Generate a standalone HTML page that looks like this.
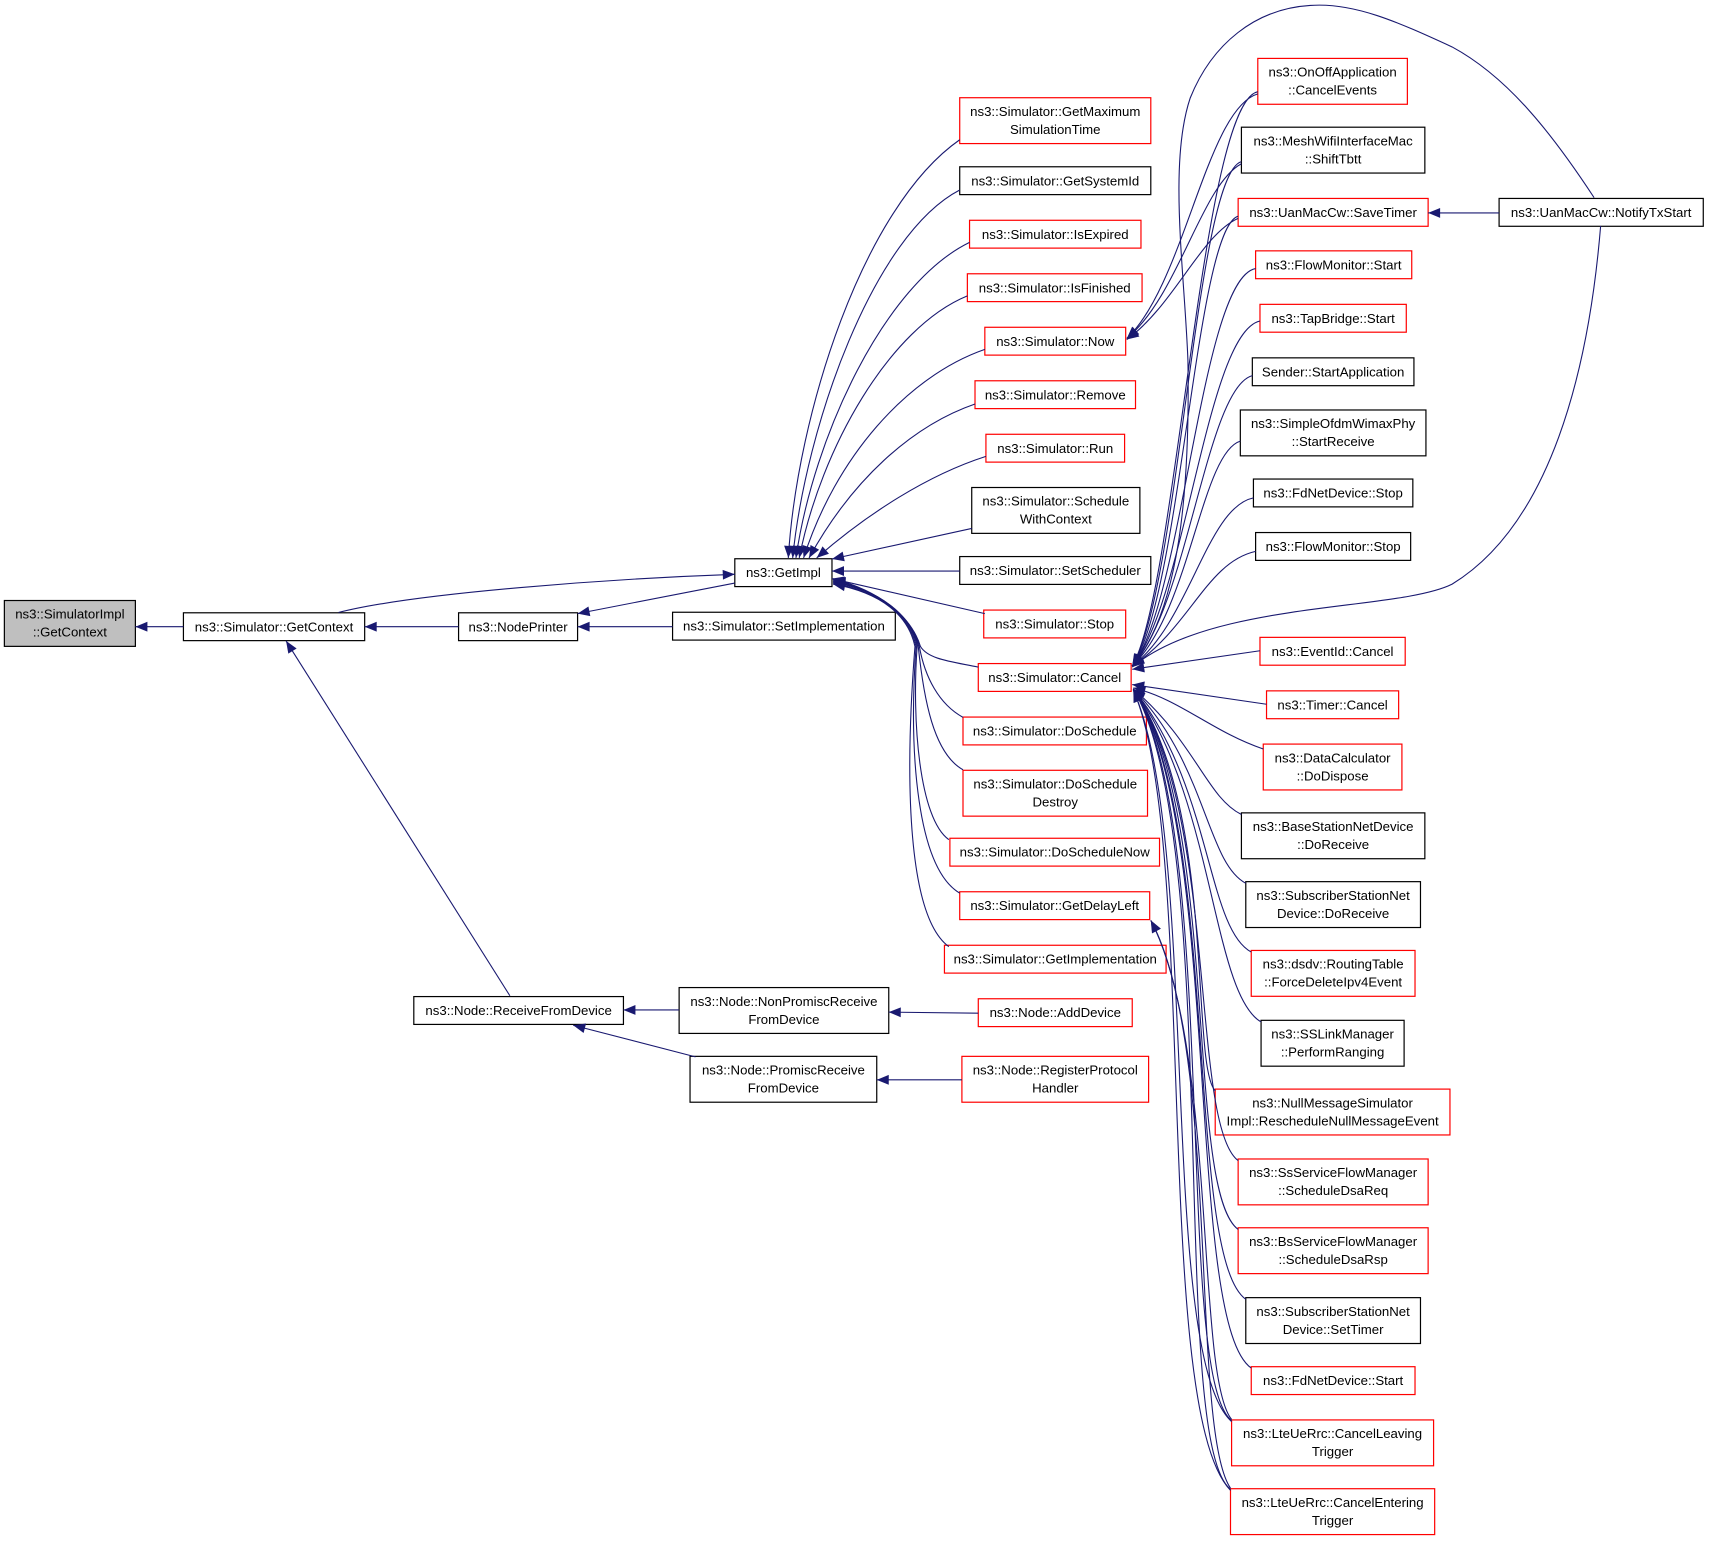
<!DOCTYPE html>
<html><head><meta charset="utf-8"><style>
html,body{margin:0;padding:0;background:#fff;}
svg{display:block;}
text{font-family:"Liberation Sans",Arial,sans-serif;font-size:12.1px;fill:#000;text-anchor:middle;}
.r{fill:#fff;stroke:#ff0000;stroke-width:1.1;}
.b{fill:#fff;stroke:#000;stroke-width:1.1;}
.e{fill:none;stroke:#191970;stroke-width:1;}
</style></head><body>
<svg width="1712" height="1542" viewBox="0 0 1568 1412.3" preserveAspectRatio="none" xmlns="http://www.w3.org/2000/svg">
<defs><marker id="a" markerUnits="userSpaceOnUse" markerWidth="11" markerHeight="9" viewBox="0 0 11 9" refX="11" refY="4.5" orient="auto" overflow="visible"><path d="M0,0L11,4.5L0,9z" fill="#191970"/></marker></defs>
<rect width="1568" height="1413" fill="#fff"/>
<!-- nodes -->
<rect x="4" y="550" width="120" height="42" fill="#bfbfbf" stroke="#000" stroke-width="1.1"/><text x="64" y="566.7">ns3::SimulatorImpl</text><text x="64" y="583.2">::GetContext</text>
<rect class="b" x="168" y="561.25" width="166" height="25.5"/><text x="251" y="578.2">ns3::Simulator::GetContext</text>
<rect class="b" x="379" y="912.75" width="192" height="25.5"/><text x="475" y="929.7">ns3::Node::ReceiveFromDevice</text>
<rect class="b" x="420" y="561.25" width="109" height="25.5"/><text x="474.5" y="578.2">ns3::NodePrinter</text>
<rect class="b" x="622" y="904.5" width="192" height="42"/><text x="718" y="921.2">ns3::Node::NonPromiscReceive</text><text x="718" y="937.7">FromDevice</text>
<rect class="b" x="632" y="967.5" width="171" height="42"/><text x="717.5" y="984.2">ns3::Node::PromiscReceive</text><text x="717.5" y="1000.7">FromDevice</text>
<rect class="b" x="673" y="511.75" width="89" height="25.5"/><text x="717.5" y="528.7">ns3::GetImpl</text>
<rect class="b" x="616" y="560.75" width="204" height="25.5"/><text x="718" y="577.7">ns3::Simulator::SetImplementation</text>
<rect class="r" x="896" y="914.75" width="141" height="25.5"/><text x="966.5" y="931.7">ns3::Node::AddDevice</text>
<rect class="r" x="881" y="967.5" width="171" height="42"/><text x="966.5" y="984.2">ns3::Node::RegisterProtocol</text><text x="966.5" y="1000.7">Handler</text>

<rect class="r" x="879" y="89.5" width="175" height="42"/><text x="966.5" y="106.2">ns3::Simulator::GetMaximum</text><text x="966.5" y="122.7">SimulationTime</text>
<rect class="b" x="879" y="152.75" width="175" height="25.5"/><text x="966.5" y="169.7">ns3::Simulator::GetSystemId</text>
<rect class="r" x="888" y="201.75" width="157" height="25.5"/><text x="966.5" y="218.7">ns3::Simulator::IsExpired</text>
<rect class="r" x="886" y="250.75" width="160" height="25.5"/><text x="966" y="267.7">ns3::Simulator::IsFinished</text>
<rect class="r" x="902" y="299.75" width="129" height="25.5"/><text x="966.5" y="316.7">ns3::Simulator::Now</text>
<rect class="r" x="893" y="348.75" width="147" height="25.5"/><text x="966.5" y="365.7">ns3::Simulator::Remove</text>
<rect class="r" x="903" y="397.75" width="127" height="25.5"/><text x="966.5" y="414.7">ns3::Simulator::Run</text>
<rect class="b" x="890" y="446.5" width="154" height="42"/><text x="967" y="463.2">ns3::Simulator::Schedule</text><text x="967" y="479.7">WithContext</text>
<rect class="b" x="879" y="509.75" width="175" height="25.5"/><text x="966.5" y="526.7">ns3::Simulator::SetScheduler</text>
<rect class="r" x="901" y="558.75" width="130" height="25.5"/><text x="966" y="575.7">ns3::Simulator::Stop</text>
<rect class="r" x="896" y="607.75" width="140" height="25.5"/><text x="966" y="624.7">ns3::Simulator::Cancel</text>
<rect class="r" x="882" y="656.75" width="168" height="25.5"/><text x="966" y="673.7">ns3::Simulator::DoSchedule</text>
<rect class="r" x="882" y="705.5" width="169" height="42"/><text x="966.5" y="722.2">ns3::Simulator::DoSchedule</text><text x="966.5" y="738.7">Destroy</text>
<rect class="r" x="870" y="767.75" width="192" height="25.5"/><text x="966" y="784.7">ns3::Simulator::DoScheduleNow</text>
<rect class="r" x="879" y="816.75" width="174" height="25.5"/><text x="966" y="833.7">ns3::Simulator::GetDelayLeft</text>
<rect class="r" x="865" y="865.75" width="203" height="25.5"/><text x="966.5" y="882.7">ns3::Simulator::GetImplementation</text>

<rect class="r" x="1152" y="53.5" width="137" height="42"/><text x="1220.5" y="70.2">ns3::OnOffApplication</text><text x="1220.5" y="86.7">::CancelEvents</text>
<rect class="b" x="1137" y="116.5" width="168" height="42"/><text x="1221" y="133.2">ns3::MeshWifiInterfaceMac</text><text x="1221" y="149.7">::ShiftTbtt</text>
<rect class="r" x="1134" y="181.75" width="174" height="25.5"/><text x="1221" y="198.7">ns3::UanMacCw::SaveTimer</text>
<rect class="r" x="1150" y="229.75" width="143" height="25.5"/><text x="1221.5" y="246.7">ns3::FlowMonitor::Start</text>
<rect class="r" x="1154" y="278.75" width="134" height="25.5"/><text x="1221" y="295.7">ns3::TapBridge::Start</text>
<rect class="b" x="1147" y="327.75" width="148" height="25.5"/><text x="1221" y="344.7">Sender::StartApplication</text>
<rect class="b" x="1136" y="375.5" width="170" height="42"/><text x="1221" y="392.2">ns3::SimpleOfdmWimaxPhy</text><text x="1221" y="408.7">::StartReceive</text>
<rect class="b" x="1148" y="438.75" width="146" height="25.5"/><text x="1221" y="455.7">ns3::FdNetDevice::Stop</text>
<rect class="b" x="1150" y="487.75" width="142" height="25.5"/><text x="1221" y="504.7">ns3::FlowMonitor::Stop</text>
<rect class="r" x="1154" y="583.75" width="133" height="25.5"/><text x="1220.5" y="600.7">ns3::EventId::Cancel</text>
<rect class="r" x="1160" y="632.75" width="121" height="25.5"/><text x="1220.5" y="649.7">ns3::Timer::Cancel</text>
<rect class="r" x="1157" y="681.5" width="127" height="42"/><text x="1220.5" y="698.2">ns3::DataCalculator</text><text x="1220.5" y="714.7">::DoDispose</text>
<rect class="b" x="1137" y="744.5" width="168" height="42"/><text x="1221" y="761.2">ns3::BaseStationNetDevice</text><text x="1221" y="777.7">::DoReceive</text>
<rect class="b" x="1141" y="807.5" width="160" height="42"/><text x="1221" y="824.2">ns3::SubscriberStationNet</text><text x="1221" y="840.7">Device::DoReceive</text>
<rect class="r" x="1146" y="870.5" width="150" height="42"/><text x="1221" y="887.2">ns3::dsdv::RoutingTable</text><text x="1221" y="903.7">::ForceDeleteIpv4Event</text>
<rect class="b" x="1155" y="934.5" width="131" height="42"/><text x="1220.5" y="951.2">ns3::SSLinkManager</text><text x="1220.5" y="967.7">::PerformRanging</text>
<rect class="r" x="1113" y="997.5" width="215" height="42"/><text x="1220.5" y="1014.2">ns3::NullMessageSimulator</text><text x="1220.5" y="1030.7">Impl::RescheduleNullMessageEvent</text>
<rect class="r" x="1134" y="1061.5" width="174" height="42"/><text x="1221" y="1078.2">ns3::SsServiceFlowManager</text><text x="1221" y="1094.7">::ScheduleDsaReq</text>
<rect class="r" x="1134" y="1124.5" width="174" height="42"/><text x="1221" y="1141.2">ns3::BsServiceFlowManager</text><text x="1221" y="1157.7">::ScheduleDsaRsp</text>
<rect class="b" x="1141" y="1188.5" width="160" height="42"/><text x="1221" y="1205.2">ns3::SubscriberStationNet</text><text x="1221" y="1221.7">Device::SetTimer</text>
<rect class="r" x="1146" y="1251.75" width="150" height="25.5"/><text x="1221" y="1268.7">ns3::FdNetDevice::Start</text>
<rect class="r" x="1128" y="1300.5" width="185" height="42"/><text x="1220.5" y="1317.2">ns3::LteUeRrc::CancelLeaving</text><text x="1220.5" y="1333.7">Trigger</text>
<rect class="r" x="1127" y="1363.5" width="187" height="42"/><text x="1220.5" y="1380.2">ns3::LteUeRrc::CancelEntering</text><text x="1220.5" y="1396.7">Trigger</text>
<rect class="b" x="1373" y="181.75" width="187" height="25.5"/><text x="1466.5" y="198.7">ns3::UanMacCw::NotifyTxStart</text>

<!-- edges -->
<g>
<path class="e" marker-end="url(#a)" d="M168,574 L124,574"/>
<path class="e" marker-end="url(#a)" d="M420,574 L334,574"/>
<path class="e" marker-end="url(#a)" d="M310,561 C380,543 560,530 673,526"/>
<path class="e" marker-end="url(#a)" d="M673,534 L529,562"/>
<path class="e" marker-end="url(#a)" d="M616,574 L529,574"/>
<path class="e" marker-end="url(#a)" d="M467,912 L262,587"/>
<path class="e" marker-end="url(#a)" d="M622,925 L571,925"/>
<path class="e" marker-end="url(#a)" d="M637,968 L525,939"/>
<path class="e" marker-end="url(#a)" d="M896,928 L814,927"/>
<path class="e" marker-end="url(#a)" d="M881,989 L803,989"/>

<path class="e" marker-end="url(#a)" d="M879,128 C790,190 730,380 722,511"/>
<path class="e" marker-end="url(#a)" d="M879,174 C800,215 738,390 726,511"/>
<path class="e" marker-end="url(#a)" d="M888,222 C810,260 745,400 729,511"/>
<path class="e" marker-end="url(#a)" d="M886,271 C815,300 752,410 732,511"/>
<path class="e" marker-end="url(#a)" d="M902,320 C830,345 765,420 736,511"/>
<path class="e" marker-end="url(#a)" d="M893,370 C835,390 780,440 741,511"/>
<path class="e" marker-end="url(#a)" d="M903,418 C850,435 795,470 748,511"/>
<path class="e" marker-end="url(#a)" d="M890,484 L762,512"/>
<path class="e" marker-end="url(#a)" d="M879,523 L762,523"/>
<path class="e" marker-end="url(#a)" d="M902,562 L762,530"/>

<path class="e" marker-end="url(#a)" d="M896,611 C872,606 850,604 843,592 C835,566 808,542 763,530"/>
<path class="e" marker-end="url(#a)" d="M882,657 C860,645 847,620 842,592 C834,564 808,542 763,531"/>
<path class="e" marker-end="url(#a)" d="M882,705 C855,690 846,640 841,592 C834,564 808,542 763,532"/>
<path class="e" marker-end="url(#a)" d="M869,769 C842,750 835,660 840,592 C834,564 808,542 763,533"/>
<path class="e" marker-end="url(#a)" d="M879,818 C840,795 832,690 839,592 C833,564 808,543 763,534"/>
<path class="e" marker-end="url(#a)" d="M869,867 C832,840 828,720 838,592 C832,564 808,543 763,535"/>

<path class="e" marker-end="url(#a)" d="M1152,86 C1105,100 1085,260 1032,310"/>
<path class="e" marker-end="url(#a)" d="M1137,150 C1100,170 1080,270 1032,310"/>
<path class="e" marker-end="url(#a)" d="M1134,200 C1100,215 1075,280 1032,311"/>

<path class="e" marker-end="url(#a)" d="M1152,84 C1100,95 1078,540 1037,610"/>
<path class="e" marker-end="url(#a)" d="M1137,148 C1095,160 1080,540 1037,610"/>
<path class="e" marker-end="url(#a)" d="M1134,198 C1095,210 1082,545 1037,610"/>
<path class="e" marker-end="url(#a)" d="M1150,246 C1100,255 1084,550 1037,610"/>
<path class="e" marker-end="url(#a)" d="M1154,294 C1105,305 1086,550 1037,610"/>
<path class="e" marker-end="url(#a)" d="M1147,344 C1105,355 1088,555 1037,610"/>
<path class="e" marker-end="url(#a)" d="M1136,404 C1100,415 1090,560 1037,610"/>
<path class="e" marker-end="url(#a)" d="M1148,456 C1105,465 1090,570 1037,610"/>
<path class="e" marker-end="url(#a)" d="M1150,505 C1105,515 1090,575 1037,610"/>
<path class="e" marker-end="url(#a)" d="M1460,181 C1420,120 1380,70 1330,43 C1280,20 1240,2 1200,5 C1150,8 1110,40 1090,90 C1070,150 1085,250 1088,330 C1090,450 1080,560 1037,610"/>
<path class="e" marker-end="url(#a)" d="M1466,207 C1455,340 1420,480 1330,535 C1280,560 1110,550 1037,611"/>
<path class="e" marker-end="url(#a)" d="M1154,596 L1037,613"/>
<path class="e" marker-end="url(#a)" d="M1160,645 L1037,627"/>

<path class="e" marker-end="url(#a)" d="M1157,686 C1110,670 1080,640 1038,630"/>
<path class="e" marker-end="url(#a)" d="M1137,746 C1105,730 1095,680 1038,631"/>
<path class="e" marker-end="url(#a)" d="M1141,809 C1105,790 1105,700 1038,631"/>
<path class="e" marker-end="url(#a)" d="M1146,872 C1105,850 1110,720 1038,631"/>
<path class="e" marker-end="url(#a)" d="M1155,936 C1110,910 1112,730 1038,631"/>
<path class="e" marker-end="url(#a)" d="M1113,999 C1090,975 1114,740 1038,631"/>
<path class="e" marker-end="url(#a)" d="M1134,1063 C1090,1030 1116,745 1038,631"/>
<path class="e" marker-end="url(#a)" d="M1134,1126 C1085,1090 1118,750 1038,631"/>
<path class="e" marker-end="url(#a)" d="M1141,1190 C1085,1150 1118,755 1038,631"/>
<path class="e" marker-end="url(#a)" d="M1146,1253 C1085,1210 1120,760 1038,631"/>
<path class="e" marker-end="url(#a)" d="M1128,1301 C1075,1260 1118,760 1038,631"/>
<path class="e" marker-end="url(#a)" d="M1127,1364 C1070,1320 1120,770 1038,631"/>
<path class="e" marker-end="url(#a)" d="M1128,1302 C1060,1240 1100,770 1038,632"/>
<path class="e" marker-end="url(#a)" d="M1127,1365 C1055,1290 1098,770 1038,632"/>
<path class="e" marker-end="url(#a)" d="M1128,1300 C1095,1260 1115,960 1054,843"/>
<path class="e" marker-end="url(#a)" d="M1127,1363 C1090,1310 1118,960 1054,843"/>

<path class="e" marker-end="url(#a)" d="M1373,195 L1308,195"/>
</g>
</svg>
</body></html>
